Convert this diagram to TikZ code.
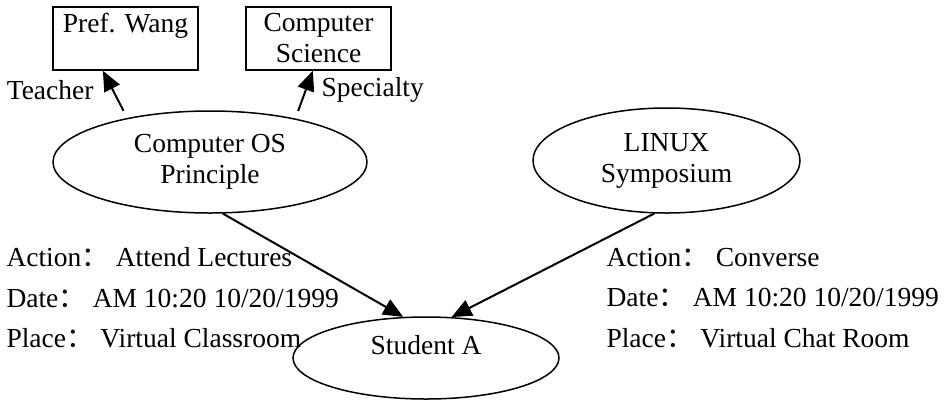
\documentclass[tikz,border=0pt]{standalone}
\usepackage{fontspec}
\setmainfont{Liberation Serif}
\newfontfamily\cjk{Noto Sans CJK SC}
\usetikzlibrary{positioning,arrows.meta,shapes.geometric}
\newcommand{\cc}{{\cjk ：}\ }
\tikzset{
    every node/.style={font=\fontsize{27.5}{31}\selectfont},
    concept/.style={ellipse,draw,line width=1.5pt,inner sep=0pt,align=center},
    entity/.style={rectangle,draw,line width=1.5pt,minimum width=145pt,minimum height=63pt,inner sep=2pt,align=center},
    relation/.style={draw,line width=2pt,-{Triangle[length=20pt,width=17pt]}},
    info/.style={align=left,anchor=west,font=\fontsize{27.5}{40.5}\selectfont}
}

\begin{document}
\begin{tikzpicture}[x=1pt,y=-1pt]
\useasboundingbox (0,0) rectangle (945,400);
% entities
\node[entity] (pref) at (125.5,38.5) {Pref. Wang\\\mbox{}};
\node[entity] (cs) at (318.5,38.5) {Computer\\Science};
% concepts
\node[concept,minimum width=314pt,minimum height=102pt] (os) at (210,162) {Computer OS\\Principle};
\node[concept,minimum width=267pt,minimum height=105pt] (linux) at (666.5,160.5) {LINUX\\Symposium};
\node[concept,minimum width=266pt,minimum height=82pt,text depth=26pt] (stu) at (426,358) {Student A};
% relations
\draw[relation,shorten <=8pt] (os.152) -- (pref.-125);
\draw[relation,shorten <=8pt] (os.27) -- (cs.-100);
\node[anchor=east] (teach) at (97,90) {Teacher};
\node[anchor=west] (spec) at (318,90) {Specialty};
\draw[relation] (os.-76) -- (stu.119);
\draw[relation] (linux.-103) -- (stu.58);
% event details
\node[info] (lefttxt) at (3,298) {Action\cc Attend Lectures\\Date\cc AM 10:20 10/20/1999\\Place\cc Virtual Classroom};
\node[info] (righttxt) at (603,298) {Action\cc Converse\\Date\cc AM 10:20 10/20/1999\\Place\cc Virtual Chat Room};
\end{tikzpicture}
\end{document}
